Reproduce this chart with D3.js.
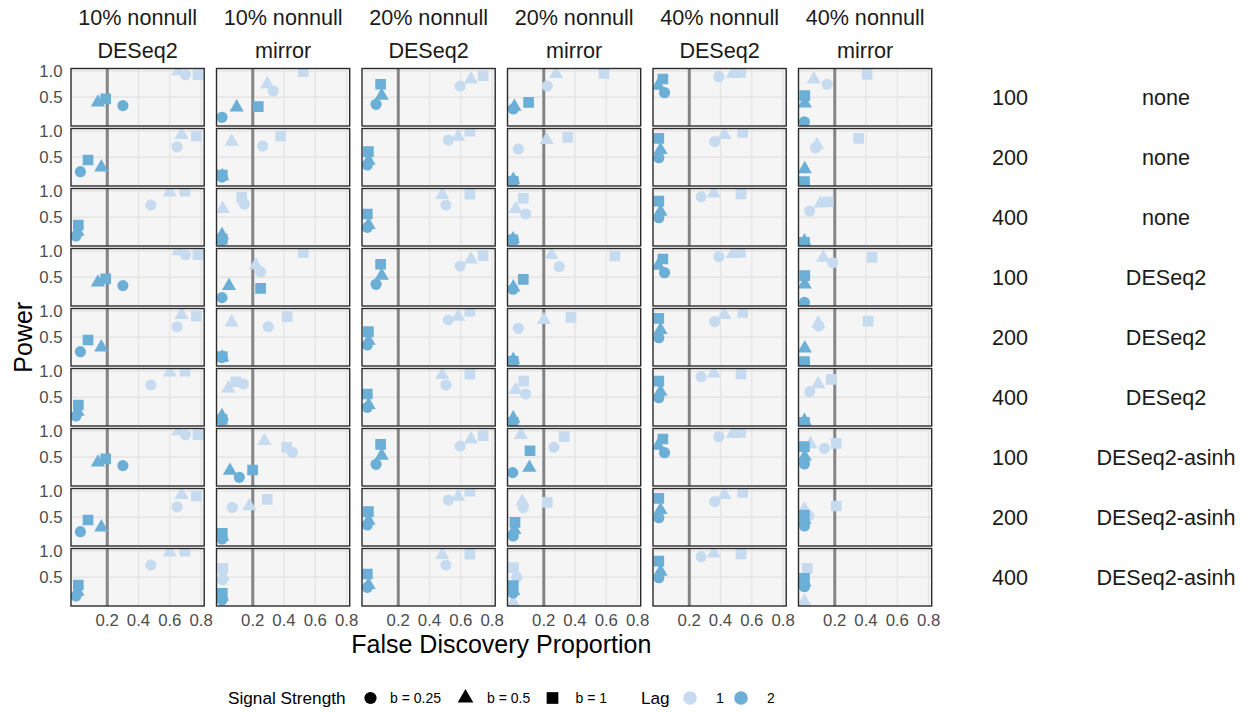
<!DOCTYPE html>
<html>
<head>
<meta charset="utf-8">
<script src="https://cdn.jsdelivr.net/npm/d3@7"></script>
<style>
  html, body { margin: 0; padding: 0; background: #ffffff; }
  svg { display: block; font-family: "Liberation Sans", Arial, Helvetica, sans-serif; }
</style>
</head>
<body>
<svg id="chart" width="1249" height="712"></svg>
<script>
// Facet labels
const colTop = ["10% nonnull", "10% nonnull", "20% nonnull", "20% nonnull", "40% nonnull", "40% nonnull"];
const colMethod = ["DESeq2", "mirror", "DESeq2", "mirror", "DESeq2", "mirror"];
const rowSize = ["100", "200", "400", "100", "200", "400", "100", "200", "400"];
const rowNorm = ["none", "none", "none", "DESeq2", "DESeq2", "DESeq2", "DESeq2-asinh", "DESeq2-asinh", "DESeq2-asinh"];

// Legend levels
const signalLevels = ["b = 0.25", "b = 0.5", "b = 1"];
const lagLevels = ["1", "2"];

// Axis ticks
const xTicks = [0.2, 0.4, 0.6, 0.8];
const yTicks = [0.5, 1.0];
const fdrTarget = 0.2;

// Each panel: [FDP, power] for lag 1 (b=0.25, 0.5, 1) then lag 2 (b=0.25, 0.5, 1)
const nn10DESeq2 = [
  [[0.700,0.93],[0.655,1.00],[0.780,0.93],[0.300,0.34],[0.140,0.40],[0.190,0.47]],
  [[0.647,0.70],[0.675,0.93],[0.770,0.91],[0.028,0.224],[0.162,0.307],[0.077,0.447]],
  [[0.479,0.734],[0.600,0.977],[0.697,1.00],[0.000,0.141],[0.010,0.224],[0.015,0.352]],
  [[0.700,0.93],[0.655,1.00],[0.780,0.93],[0.300,0.34],[0.140,0.40],[0.190,0.47]],
  [[0.647,0.70],[0.675,0.93],[0.770,0.91],[0.028,0.224],[0.162,0.307],[0.077,0.447]],
  [[0.479,0.734],[0.600,0.977],[0.697,1.00],[0.000,0.141],[0.010,0.224],[0.015,0.352]],
  [[0.700,0.93],[0.655,1.00],[0.780,0.93],[0.300,0.34],[0.140,0.40],[0.190,0.47]],
  [[0.647,0.70],[0.675,0.93],[0.770,0.91],[0.028,0.224],[0.162,0.307],[0.077,0.447]],
  [[0.479,0.734],[0.600,0.977],[0.697,1.00],[0.000,0.141],[0.010,0.224],[0.015,0.352]]
];
const nn10Mirror = [
  [[0.331,0.62],[0.293,0.753],[0.523,0.99],[0.003,0.116],[0.097,0.307],[0.235,0.32]],
  [[0.263,0.715],[0.065,0.80],[0.378,0.906],[0.003,0.12],[0.005,0.14],[0.005,0.16]],
  [[0.146,0.753],[0.008,0.658],[0.129,0.88],[0.003,0.06],[0.003,0.16],[0.005,0.08]],
  [[0.250,0.606],[0.220,0.734],[0.523,0.977],[0.003,0.11],[0.048,0.333],[0.250,0.288]],
  [[0.299,0.702],[0.065,0.786],[0.420,0.893],[0.003,0.11],[0.004,0.12],[0.005,0.128]],
  [[0.139,0.753],[0.044,0.671],[0.091,0.797],[0.003,0.065],[0.003,0.14],[0.004,0.075]],
  [[0.453,0.594],[0.274,0.811],[0.417,0.69],[0.114,0.116],[0.054,0.243],[0.199,0.256]],
  [[0.069,0.69],[0.178,0.715],[0.293,0.843],[0.003,0.084],[0.005,0.128],[0.005,0.193]],
  [[0.006,0.45],[0.008,0.52],[0.008,0.671],[0.003,0.065],[0.004,0.13],[0.005,0.193]]
];
const nn20DESeq2 = [
  [[0.596,0.715],[0.665,0.843],[0.743,0.913],[0.058,0.365],[0.094,0.53],[0.087,0.748]],
  [[0.520,0.83],[0.583,0.893],[0.658,1.00],[0.002,0.352],[0.010,0.434],[0.009,0.606]],
  [[0.505,0.734],[0.481,0.926],[0.658,0.94],[0.002,0.307],[0.010,0.352],[0.002,0.562]],
  [[0.596,0.715],[0.665,0.843],[0.743,0.913],[0.058,0.365],[0.094,0.53],[0.087,0.748]],
  [[0.520,0.83],[0.583,0.893],[0.658,1.00],[0.002,0.352],[0.010,0.434],[0.009,0.606]],
  [[0.505,0.734],[0.481,0.926],[0.658,0.94],[0.002,0.307],[0.010,0.352],[0.002,0.562]],
  [[0.596,0.715],[0.665,0.843],[0.743,0.913],[0.058,0.365],[0.094,0.53],[0.087,0.748]],
  [[0.520,0.83],[0.583,0.893],[0.658,1.00],[0.002,0.352],[0.010,0.434],[0.009,0.606]],
  [[0.505,0.734],[0.481,0.926],[0.658,0.94],[0.002,0.307],[0.010,0.352],[0.002,0.562]]
];
const nn20Mirror = [
  [[0.222,0.715],[0.278,0.945],[0.585,0.958],[0.005,0.275],[0.012,0.32],[0.103,0.403]],
  [[0.037,0.658],[0.218,0.83],[0.353,0.88],[0.005,0.05],[0.005,0.07],[0.004,0.04]],
  [[0.084,0.562],[0.020,0.658],[0.069,0.862],[0.005,0.075],[0.003,0.08],[0.002,0.07]],
  [[0.299,0.702],[0.250,0.926],[0.655,0.906],[0.003,0.27],[0.005,0.307],[0.069,0.46]],
  [[0.037,0.671],[0.201,0.83],[0.374,0.88],[0.005,0.05],[0.005,0.07],[0.004,0.04]],
  [[0.084,0.562],[0.020,0.639],[0.072,0.81],[0.004,0.03],[0.005,0.097],[0.004,0.02]],
  [[0.265,0.69],[0.054,0.926],[0.331,0.893],[0.001,0.205],[0.108,0.30],[0.112,0.625]],
  [[0.069,0.683],[0.063,0.80],[0.222,0.786],[0.005,0.141],[0.012,0.256],[0.016,0.403]],
  [[0.027,0.499],[0.005,0.013],[0.006,0.683],[0.004,0.20],[0.005,0.24],[0.005,0.339]]
];
const nn40DESeq2 = [
  [[0.389,0.893],[0.478,0.945],[0.527,0.977],[0.042,0.587],[0.001,0.72],[0.031,0.849]],
  [[0.363,0.80],[0.425,0.926],[0.542,0.977],[0.005,0.491],[0.016,0.639],[0.005,0.862]],
  [[0.276,0.893],[0.357,0.958],[0.531,0.945],[0.005,0.491],[0.016,0.606],[0.005,0.81]],
  [[0.389,0.893],[0.478,0.945],[0.527,0.977],[0.042,0.587],[0.001,0.72],[0.031,0.849]],
  [[0.363,0.80],[0.425,0.926],[0.542,0.977],[0.005,0.491],[0.016,0.639],[0.005,0.862]],
  [[0.276,0.893],[0.357,0.958],[0.531,0.945],[0.005,0.491],[0.016,0.606],[0.005,0.81]],
  [[0.389,0.893],[0.478,0.945],[0.527,0.977],[0.042,0.587],[0.001,0.72],[0.031,0.849]],
  [[0.363,0.80],[0.425,0.926],[0.542,0.977],[0.005,0.491],[0.016,0.639],[0.005,0.862]],
  [[0.276,0.893],[0.357,0.958],[0.531,0.945],[0.005,0.491],[0.016,0.606],[0.005,0.81]]
];
const nn40Mirror = [
  [[0.151,0.748],[0.066,0.843],[0.407,0.939],[0.006,0.032],[0.008,0.384],[0.008,0.53]],
  [[0.077,0.683],[0.087,0.734],[0.353,0.862],[0.005,0.02],[0.008,0.275],[0.006,0.032]],
  [[0.040,0.62],[0.109,0.766],[0.158,0.797],[0.005,0.02],[0.006,0.04],[0.006,0.02]],
  [[0.187,0.778],[0.126,0.874],[0.439,0.88],[0.006,0.02],[0.008,0.365],[0.008,0.53]],
  [[0.098,0.715],[0.094,0.767],[0.413,0.81],[0.005,0.02],[0.008,0.288],[0.006,0.032]],
  [[0.040,0.606],[0.094,0.753],[0.177,0.843],[0.005,0.02],[0.006,0.05],[0.006,0.02]],
  [[0.134,0.671],[0.045,0.753],[0.209,0.766],[0.006,0.371],[0.008,0.51],[0.006,0.702]],
  [[0.034,0.53],[0.006,0.652],[0.209,0.715],[0.006,0.333],[0.006,0.45],[0.006,0.543]],
  [[0.006,0.45],[0.006,0.032],[0.024,0.671],[0.006,0.319],[0.006,0.40],[0.006,0.48]]
];
const columnsData = [nn10DESeq2, nn10Mirror, nn20DESeq2, nn20Mirror, nn40DESeq2, nn40Mirror];

// Styling
const lagColors = ["#c6dbef", "#6baed6"];
const FONT = "'Liberation Sans', Arial, Helvetica, sans-serif";

const svg = d3.select("#chart");

// Facet grid
const colBand = d3.scaleBand().domain(d3.range(6)).range([71, 931.7]).paddingInner(0.0845);
const rowBand = d3.scaleBand().domain(d3.range(9)).range([68.5, 606]).paddingInner(0.0417);
const pw = colBand.bandwidth();
const ph = rowBand.bandwidth();

const x = d3.scaleLinear().domain([-0.032, 0.82]).range([0, pw]);
const y = d3.scaleLinear().domain([-0.05, 1.05]).range([ph, 0]);

const shapeType = d3.scaleOrdinal().domain(signalLevels)
  .range([d3.symbolCircle, d3.symbolTriangle, d3.symbolSquare]);
const shapeSize = d3.scaleOrdinal().domain(signalLevels).range([98, 88, 114]);
const lagColor = d3.scaleOrdinal().domain(lagLevels).range(lagColors);

const defs = svg.append("defs");
defs.append("clipPath").attr("id", "panelClip")
  .append("rect").attr("x", 0).attr("y", 0).attr("width", pw).attr("height", ph);

columnsData.forEach((col, ci) => {
  col.forEach((panel, ri) => {
    const g = svg.append("g")
      .attr("transform", `translate(${colBand(ci)},${rowBand(ri)})`);
    g.append("rect").attr("width", pw).attr("height", ph).attr("fill", "#f5f5f5");

    const grid = g.append("g").attr("stroke", "#e4e4e4").attr("stroke-width", 1.3);
    grid.selectAll("line.vx").data(xTicks).join("line")
      .attr("x1", d => x(d)).attr("x2", d => x(d)).attr("y1", 0).attr("y2", ph);
    grid.selectAll("line.hy").data(yTicks).join("line")
      .attr("y1", d => y(d)).attr("y2", d => y(d)).attr("x1", 0).attr("x2", pw);

    g.append("line")
      .attr("x1", x(fdrTarget)).attr("x2", x(fdrTarget))
      .attr("y1", 0).attr("y2", ph)
      .attr("stroke", "#858585").attr("stroke-width", 3);

    const pts = panel.map((p, i) => ({
      fdp: p[0], power: p[1],
      lag: lagLevels[Math.floor(i / 3)],
      signal: signalLevels[i % 3]
    }));
    g.append("g").attr("clip-path", "url(#panelClip)")
      .selectAll("path").data(pts).join("path")
      .attr("transform", d => `translate(${x(d.fdp)},${y(d.power)})`)
      .attr("d", d => d3.symbol().type(shapeType(d.signal)).size(shapeSize(d.signal))())
      .attr("fill", d => lagColor(d.lag));

    g.append("rect").attr("width", pw).attr("height", ph)
      .attr("fill", "none").attr("stroke", "#2b2b2b").attr("stroke-width", 1.4);
  });
});

// Column strips
const strips = svg.append("g").attr("font-family", FONT).attr("font-size", 21.6)
  .attr("fill", "#1a1a1a").attr("text-anchor", "middle");
colTop.forEach((t, i) => {
  strips.append("text").attr("x", colBand(i) + pw / 2).attr("y", 25).text(t);
  strips.append("text").attr("x", colBand(i) + pw / 2).attr("y", 57.5).text(colMethod[i]);
});
// Row strips
rowSize.forEach((t, i) => {
  const cy = rowBand(i) + ph / 2;
  strips.append("text").attr("x", 1010).attr("y", cy).attr("dy", "0.36em").text(t);
  strips.append("text").attr("x", 1166).attr("y", cy).attr("dy", "0.36em").text(rowNorm[i]);
});

// Axis tick labels
const ticks = svg.append("g").attr("font-family", FONT).attr("font-size", 16.8).attr("fill", "#4d4d4d");
d3.range(6).forEach(ci => {
  ticks.append("g").selectAll("text").data(xTicks).join("text")
    .attr("x", d => colBand(ci) + x(d)).attr("y", 626)
    .attr("text-anchor", "middle").text(d => d3.format(".1f")(d));
});
d3.range(9).forEach(ri => {
  ticks.append("g").selectAll("text").data(yTicks).join("text")
    .attr("x", 62.5).attr("y", d => rowBand(ri) + y(d)).attr("dy", "0.36em")
    .attr("text-anchor", "end").text(d => d3.format(".1f")(d));
});

// Axis titles
svg.append("text").attr("font-family", FONT).attr("font-size", 25).attr("fill", "#000")
  .attr("text-anchor", "middle").attr("x", (71 + 931.7) / 2).attr("y", 653)
  .text("False Discovery Proportion");
svg.append("text").attr("font-family", FONT).attr("font-size", 25).attr("fill", "#000")
  .attr("text-anchor", "middle")
  .attr("transform", `translate(32,${(68.5 + 606) / 2}) rotate(-90)`)
  .text("Power");

// Legend
const lg = svg.append("g").attr("font-family", FONT).attr("fill", "#000");
const ly = 698;
lg.append("text").attr("x", 228).attr("y", ly).attr("dy", "0.36em").attr("font-size", 17.2)
  .text("Signal Strength");
const sigX = [370.5, 465.5, 552.5];
const sigLabelX = [390, 487, 575.5];
signalLevels.forEach((s, i) => {
  lg.append("path").attr("transform", `translate(${sigX[i]},${ly})`)
    .attr("d", d3.symbol().type(shapeType(s)).size(shapeSize(s) * 1.2)())
    .attr("fill", "#000");
  lg.append("text").attr("x", sigLabelX[i]).attr("y", ly).attr("dy", "0.36em")
    .attr("font-size", 14).text(s);
});
lg.append("text").attr("x", 641).attr("y", ly).attr("dy", "0.36em").attr("font-size", 17.2).text("Lag");
const lagX = [690, 741];
const lagLabelX = [716, 767];
lagLevels.forEach((l, i) => {
  lg.append("circle").attr("cx", lagX[i]).attr("cy", ly).attr("r", 6.8).attr("fill", lagColor(l));
  lg.append("text").attr("x", lagLabelX[i]).attr("y", ly).attr("dy", "0.36em")
    .attr("font-size", 14).text(l);
});
</script>
</body>
</html>
